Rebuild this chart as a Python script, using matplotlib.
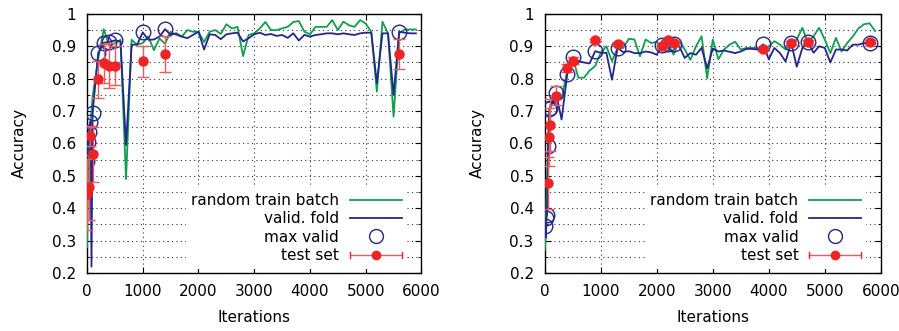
import numpy as np
import matplotlib
matplotlib.use("Agg")
import matplotlib.pyplot as plt
from matplotlib.lines import Line2D
from matplotlib.legend_handler import HandlerBase
from matplotlib.ticker import MultipleLocator, FormatStrFormatter

plt.rcParams['font.family'] = ['DejaVu Sans']

GREEN = '#0ea04c'
BLUE = '#25258f'
RED = '#ee2424'
ERR = '#f05a5a'

steps = list(range(200, 6000, 100))

# ---------------- left run
left_iter = [0, 20, 40, 60, 80, 100] + steps
left_train = [0.28, 0.55, 0.60, 0.66, 0.70, 0.745,
              0.86, 0.953, 0.90, 0.91, 0.92, 0.49, 0.92, 0.905, 0.91, 0.93,
              0.888, 0.924, 0.908, 0.945, 0.935, 0.93, 0.95, 0.945, 0.945, 0.913,
              0.945, 0.95, 0.938, 0.968, 0.955, 0.96, 0.87, 0.935, 0.94, 0.955,
              0.975, 0.95, 0.95, 0.955, 0.96, 0.975, 0.978, 0.945, 0.937, 0.96,
              0.96, 0.96, 0.981, 0.95, 0.976, 0.965, 0.96, 0.981, 0.97, 0.945,
              0.76, 0.976, 0.94, 0.683, 0.94, 0.952, 0.952, 0.952]
left_valid = [0.545, 0.606, 0.637, 0.667, 0.22, 0.693,
              0.879, 0.911, 0.914, 0.918, 0.915, 0.595, 0.905, 0.905, 0.943, 0.92,
              0.921, 0.93, 0.953, 0.935, 0.94, 0.93, 0.925, 0.935, 0.945, 0.89,
              0.937, 0.935, 0.922, 0.937, 0.94, 0.942, 0.915, 0.925, 0.937, 0.942,
              0.935, 0.938, 0.932, 0.935, 0.926, 0.94, 0.918, 0.935, 0.93, 0.935,
              0.937, 0.94, 0.94, 0.937, 0.94, 0.937, 0.935, 0.94, 0.942, 0.942,
              0.786, 0.94, 0.94, 0.75, 0.945, 0.942, 0.94, 0.94]
left_max_iter = [0, 20, 40, 60, 100, 200, 300, 400, 500, 1000, 1400, 5600]
left_max_val = [0.545, 0.606, 0.637, 0.667, 0.693, 0.879, 0.911, 0.914, 0.918,
                0.943, 0.953, 0.945]
left_test_iter = [0, 40, 60, 100, 200, 300, 400, 500, 1000, 1400, 5600]
left_test_val = [0.443, 0.465, 0.623, 0.567, 0.798, 0.848, 0.84, 0.84, 0.854,
                 0.876, 0.876]
left_test_err = [0.11, 0.10, 0.03, 0.085, 0.058, 0.06, 0.07, 0.06, 0.048,
                 0.055, 0.047]

# ---------------- right run
right_iter = [0, 20, 30, 40, 60, 80, 100] + steps
right_train = [0.27, 0.35, 0.42, 0.50, 0.60, 0.68, 0.72,
               0.735, 0.74, 0.823, 0.864, 0.803, 0.803, 0.825, 0.839, 0.88, 0.90,
               0.854, 0.895, 0.895, 0.923, 0.921, 0.869, 0.921, 0.91, 0.914, 0.895,
               0.91, 0.874, 0.916, 0.89, 0.858, 0.90, 0.931, 0.801, 0.921, 0.86,
               0.89, 0.905, 0.914, 0.89, 0.895, 0.895, 0.895, 0.879, 0.90, 0.916,
               0.905, 0.89, 0.91, 0.921, 0.957, 0.91, 0.931, 0.957, 0.921, 0.879,
               0.926, 0.884, 0.91, 0.93, 0.955, 0.968, 0.971, 0.947]
right_valid = [0.344, 0.31, 0.37, 0.38, 0.591, 0.705, 0.71,
               0.756, 0.674, 0.813, 0.866, 0.854, 0.85, 0.847, 0.885, 0.88, 0.88,
               0.797, 0.895, 0.882, 0.885, 0.879, 0.879, 0.884, 0.881, 0.874, 0.903,
               0.906, 0.907, 0.90, 0.864, 0.879, 0.874, 0.895, 0.832, 0.893, 0.884,
               0.887, 0.883, 0.879, 0.884, 0.892, 0.892, 0.89, 0.906, 0.86, 0.895,
               0.879, 0.853, 0.911, 0.837, 0.895, 0.912, 0.88, 0.90, 0.895, 0.85,
               0.89, 0.89, 0.887, 0.905, 0.905, 0.91, 0.911, 0.91]
right_max_iter = [0, 30, 40, 60, 80, 100, 200, 400, 500, 900, 1300, 2100, 2200,
                  2300, 3900, 4400, 4700, 5800]
right_max_val = [0.344, 0.37, 0.38, 0.591, 0.705, 0.71, 0.756, 0.813, 0.866,
                 0.885, 0.895, 0.903, 0.906, 0.907, 0.906, 0.911, 0.912, 0.911]
right_test_iter = [60, 70, 85, 200, 400, 500, 900, 1300, 2100, 2200, 2300, 3900,
                   4400, 4700, 5800]
right_test_val = [0.477, 0.619, 0.657, 0.748, 0.832, 0.856, 0.918, 0.906, 0.902,
                  0.918, 0.909, 0.891, 0.911, 0.912, 0.913]
right_test_err = [0.08, 0.09, 0.08, 0.03, 0.012, 0.01, 0.006, 0.006, 0.006,
                  0.006, 0.006, 0.006, 0.006, 0.006, 0.006]


class ErrLineHandler(HandlerBase):
    # gnuplot style key sample: horizontal bar with end caps and a dot
    def create_artists(self, legend, orig_handle, xdescent, ydescent,
                       width, height, fontsize, trans):
        y = height / 2 - ydescent
        x0, x1 = -xdescent, width - xdescent
        h = 0.3 * height
        arts = [Line2D([x0, x1], [y, y], color=ERR, lw=1),
                Line2D([x0, x0], [y - h, y + h], color=RED, lw=1),
                Line2D([x1, x1], [y - h, y + h], color=RED, lw=1),
                Line2D([(x0 + x1) / 2], [y], color=RED, marker='o', ms=6, lw=0)]
        for a in arts:
            a.set_transform(trans)
        return arts


def panel(ax, it, train, valid, mx_it, mx_val, t_it, t_val, t_err):
    ax.plot(it, train, color=GREEN, lw=1.3, zorder=3)
    ax.plot(it, valid, color=BLUE, lw=1.3, zorder=4)
    ax.plot(mx_it, mx_val, ls='none', marker='o', ms=10.5, mfc='none',
            mec=BLUE, mew=1, zorder=5)
    ax.errorbar(t_it, t_val, yerr=t_err, fmt='o', color=RED, ms=6.5,
                ecolor=ERR, elinewidth=1, capsize=4, capthick=1, zorder=6)

    ax.set_xlim(0, 6000)
    ax.set_ylim(0.2, 1.0)
    ax.xaxis.set_major_locator(MultipleLocator(1000))
    ax.yaxis.set_major_locator(MultipleLocator(0.1))
    ax.yaxis.set_minor_locator(MultipleLocator(0.05))
    ax.yaxis.set_major_formatter(FormatStrFormatter('%g'))
    ax.grid(which='both', color='black', lw=0.8, ls=(0, (1, 3)), alpha=0.8)
    ax.xaxis.grid(which='minor', visible=False)
    ax.tick_params(which='both', direction='in', top=True, right=True,
                   labelsize=11, length=4, pad=8)
    ax.tick_params(which='minor', length=2)
    ax.set_xlabel('Iterations', fontsize=11, labelpad=8)
    ax.set_ylabel('Accuracy', fontsize=11, labelpad=18)
    for s in ax.spines.values():
        s.set_linewidth(1)

    handles = [Line2D([], [], color=GREEN, lw=1.3),
               Line2D([], [], color=BLUE, lw=1.3),
               Line2D([], [], ls='none', marker='o', ms=10, mfc='none',
                      mec=BLUE, mew=1),
               Line2D([], [], color=RED)]
    labels = ['random train batch', 'valid. fold', 'max valid', 'test set']
    leg = ax.legend(handles, labels, loc='lower right',
                    bbox_to_anchor=(0.98, -0.012), markerfirst=False,
                    fontsize=11, handlelength=3.4, handletextpad=0.7,
                    labelspacing=0.22, borderpad=0.35, frameon=True,
                    fancybox=False, handler_map={handles[3]: ErrLineHandler()})
    leg.get_frame().set_edgecolor('none')
    leg.get_frame().set_facecolor('white')
    leg.get_frame().set_alpha(1)


fig = plt.figure(figsize=(8.99, 3.31), dpi=100)
ax1 = fig.add_axes([0.0968, 0.175, 0.372, 0.783])
ax2 = fig.add_axes([0.606, 0.175, 0.3737, 0.783])

panel(ax1, left_iter, left_train, left_valid, left_max_iter, left_max_val,
      left_test_iter, left_test_val, left_test_err)
panel(ax2, right_iter, right_train, right_valid, right_max_iter, right_max_val,
      right_test_iter, right_test_val, right_test_err)

fig.savefig('out.png', dpi=100)
